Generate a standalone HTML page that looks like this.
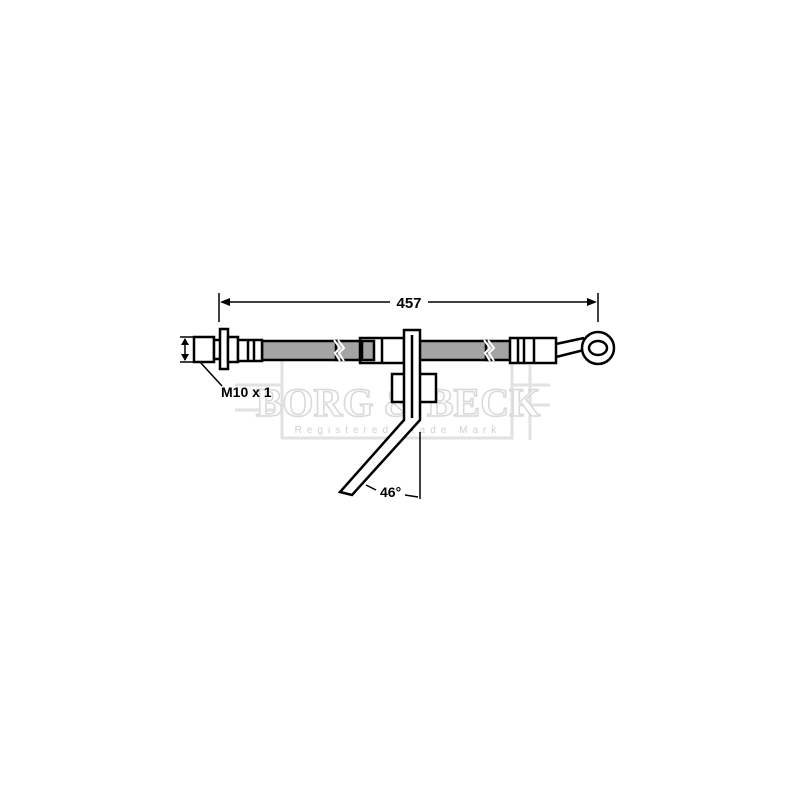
<!DOCTYPE html>
<html><head><style>body{margin:0;background:#fff}svg{display:block}</style></head><body>
<svg width="800" height="800" viewBox="0 0 800 800" xmlns="http://www.w3.org/2000/svg" font-family="Liberation Sans, sans-serif">
<rect width="800" height="800" fill="#fff"/>
<g fill="none" stroke="#e2e2e2" stroke-width="3">
<rect x="282" y="358" width="230" height="80"/>
<line x1="235" y1="385" x2="282" y2="385"/><line x1="235" y1="410" x2="282" y2="410"/>
<line x1="512" y1="385" x2="550" y2="385"/><line x1="512" y1="405" x2="550" y2="405"/><line x1="530" y1="365" x2="530" y2="440"/>
</g>
<text x="398" y="416" text-anchor="middle" font-family="Liberation Serif, serif" font-weight="bold" font-size="40" fill="#fff" stroke="#d8d8d8" stroke-width="1.5">BORG &amp; BECK</text>
<text x="398" y="433" text-anchor="middle" font-size="10" letter-spacing="5" fill="#d0d0d0">Registered Trade Mark</text>
<g stroke="#000" stroke-width="1.5" fill="none">
<line x1="219" y1="293" x2="219" y2="322"/><line x1="598" y1="293" x2="598" y2="322"/>
<line x1="222" y1="302" x2="390" y2="302"/><line x1="428" y1="302" x2="595" y2="302"/>
</g>
<polygon points="220,302 230,298 230,306" fill="#000"/><polygon points="597,302 587,298 587,306" fill="#000"/>
<text x="409" y="308" text-anchor="middle" font-weight="bold" font-size="15">457</text>
<g stroke="#000" stroke-width="2.5">
<rect x="262" y="341" width="75" height="19" fill="#a4a4a4"/>
<rect x="336" y="341" width="26" height="19" fill="#a4a4a4"/>
<rect x="416" y="341" width="72" height="19" fill="#a4a4a4"/>
<rect x="486" y="341" width="26" height="19" fill="#a4a4a4"/>
</g>
<path d="M334 340 l6 8 -5 5 5 8 M338 340 l6 8 -5 5 5 8" stroke="#fff" stroke-width="2" fill="none"/>
<path d="M484 340 l6 8 -5 5 5 8 M488 340 l6 8 -5 5 5 8" stroke="#fff" stroke-width="2" fill="none"/>
<g stroke="#000" stroke-width="2.5" fill="#fff">
<rect x="194" y="337" width="20" height="25"/>
<rect x="214" y="340" width="8" height="19"/>
<rect x="220" y="329" width="8" height="40"/>
<rect x="228" y="337" width="10" height="25"/>
<rect x="238" y="340" width="24" height="21"/>
<line x1="248" y1="341" x2="248" y2="360"/><line x1="254" y1="341" x2="254" y2="360"/>
<rect x="360" y="338" width="44" height="25"/>
<rect x="362" y="341" width="12" height="19" fill="#a4a4a4"/>
<line x1="382" y1="338" x2="382" y2="363"/>
<rect x="510" y="338" width="46" height="25"/>
<line x1="518" y1="338" x2="518" y2="363"/><line x1="524" y1="338" x2="524" y2="363"/><line x1="534" y1="338" x2="534" y2="363"/>
<path d="M556 344 L584 338 M556 357 L584 350" fill="none"/>
<circle cx="598" cy="348" r="16"/>
<ellipse cx="598" cy="348" rx="9" ry="7"/>
<rect x="392" y="374" width="44" height="28"/>
<path d="M404 330 L420 330 L420 420 L352 495 L340 492 L404 420 Z"/>
<line x1="412" y1="335" x2="412" y2="418"/>
</g>
<g stroke="#000" stroke-width="1.5" fill="none">
<line x1="180" y1="337" x2="194" y2="337"/><line x1="180" y1="362" x2="194" y2="362"/>
<line x1="185" y1="339" x2="185" y2="360"/>
<line x1="200" y1="362" x2="222" y2="386"/>
<line x1="420" y1="432" x2="420" y2="499"/>
<line x1="366" y1="485" x2="376" y2="490"/><line x1="405" y1="495" x2="418" y2="497"/>
</g>
<polygon points="185,338 181,345 189,345" fill="#000"/><polygon points="185,361 181,354 189,354" fill="#000"/>
<text x="221" y="397" font-weight="bold" font-size="14">M10 x 1</text>
<text x="380" y="497" font-weight="bold" font-size="14">46°</text>
</svg>
</body></html>
